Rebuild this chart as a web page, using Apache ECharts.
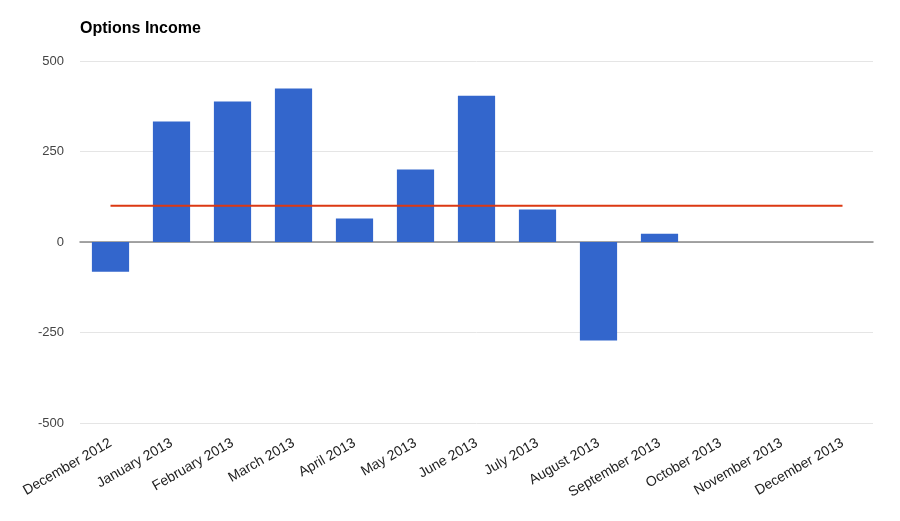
<!DOCTYPE html>
<html>
<head>
<meta charset="utf-8">
<script src="https://cdn.jsdelivr.net/npm/echarts@6/dist/echarts.min.js"></script>
<style>html,body{margin:0;padding:0;background:#fff}#c{width:900px;height:521px}</style>
</head>
<body>
<div id="c"></div>
<script>
var categories = ['December 2012','January 2013','February 2013','March 2013','April 2013','May 2013','June 2013','July 2013','August 2013','September 2013','October 2013','November 2013','December 2013'];
var income = [-82, 333, 388, 424, 65, 200, 404, 90, -272, 23, 0, 0, 0];
var target = [100, 100, 100, 100, 100, 100, 100, 100, 100, 100, 100, 100, 100];
var yTicks = [-500, -250, 0, 250, 500];

var chart = echarts.init(document.getElementById('c'));
chart.setOption({
  animation: false,
  title: {
    text: 'Options Income', left: 75, top: 16,
    textStyle: {fontFamily: 'Arial, Liberation Sans', fontSize: 16, fontWeight: 'bold', color: '#000'}
  },
  grid: {left: 80, right: 27, top: 61, bottom: 98, containLabel: false},
  xAxis: {
    type: 'category', data: categories,
    axisLine: {onZero: true, lineStyle: {color: '#888', width: 1.5}},
    axisTick: {show: false},
    axisLabel: {rotate: 30, interval: 0, margin: 19, color: '#222', fontFamily: 'Arial, Liberation Sans', fontSize: 14}
  },
  yAxis: {
    type: 'value', min: yTicks[0], max: yTicks[yTicks.length - 1], interval: 250,
    axisLine: {show: false}, axisTick: {show: false},
    splitLine: {lineStyle: {color: '#e5e5e5', width: 1}},
    axisLabel: {color: '#444', fontFamily: 'Arial, Liberation Sans', fontSize: 13, margin: 16}
  },
  series: [
    {type: 'bar', data: income, barWidth: '61%', itemStyle: {color: '#3366cc'}},
    {type: 'line', data: target, symbol: 'none', lineStyle: {color: '#dc3912', width: 2}, z: 5}
  ]
});
</script>
</body>
</html>
